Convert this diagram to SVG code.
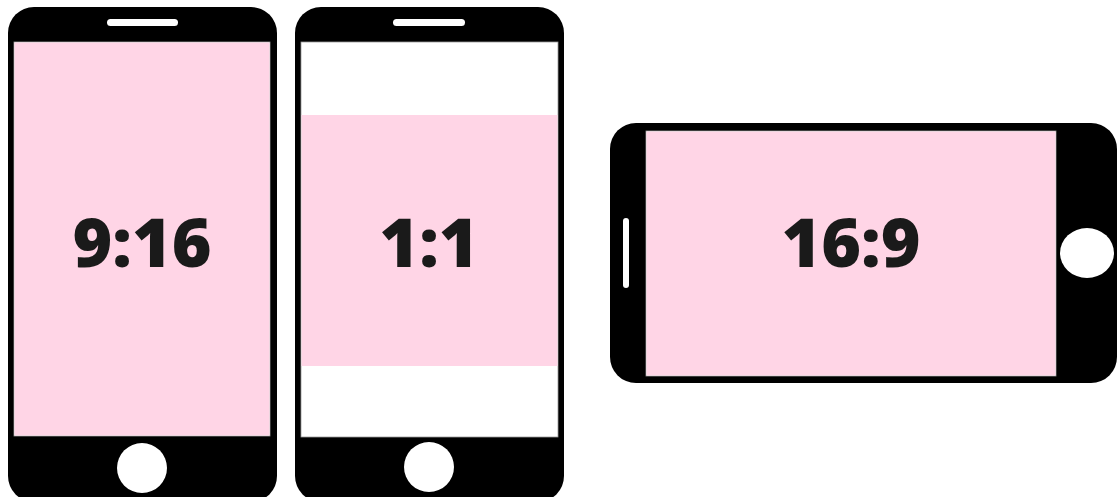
<svg xmlns="http://www.w3.org/2000/svg" width="1120" height="497" viewBox="0 0 1120 497">
<style>
.body{fill:#000}
.screen{fill:#fff;stroke:#999;stroke-width:0.8}
.pink{fill:#ffd5e6}
.hole{fill:#fff}
.lbl{font-family:"Open Sans","Liberation Sans",sans-serif;font-weight:800;font-size:68px;fill:#1a1a1a;text-anchor:middle;dominant-baseline:central}
</style>
<rect width="1120" height="497" fill="#fff"/>
<g id="phone-9-16">
<rect class="body" x="8" y="7" width="269" height="495" rx="26"/>
<rect class="hole" x="107" y="19" width="71" height="7" rx="3.5"/>
<rect class="screen" x="14" y="42" width="256" height="394"/>
<rect class="pink" x="14.5" y="42.5" width="255" height="393"/>
<circle class="hole" cx="142" cy="468" r="25"/>
<text class="lbl" x="142" y="240">9:16</text>
</g>
<g id="phone-1-1">
<rect class="body" x="295" y="7" width="269" height="495" rx="26"/>
<rect class="hole" x="393" y="19" width="72" height="7" rx="3.5"/>
<rect class="screen" x="301" y="42" width="257" height="395"/>
<rect class="pink" x="301.5" y="115" width="256" height="251"/>
<circle class="hole" cx="429" cy="467" r="25"/>
<text class="lbl" x="429" y="240">1:1</text>
</g>
<g id="phone-16-9">
<rect class="body" x="610" y="123" width="507" height="260" rx="26"/>
<rect class="hole" x="623" y="218" width="6" height="70" rx="3"/>
<rect class="screen" x="646" y="131" width="410" height="245"/>
<rect class="pink" x="646.5" y="131.5" width="409" height="244"/>
<ellipse class="hole" cx="1087" cy="253" rx="27" ry="25"/>
<text class="lbl" x="851" y="240">16:9</text>
</g>
<g id="connectors"/>
</svg>
